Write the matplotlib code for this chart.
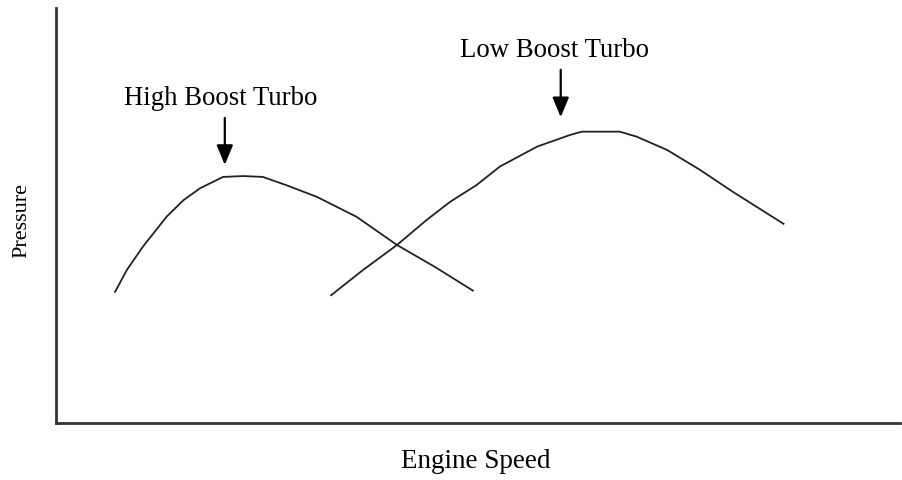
import matplotlib
matplotlib.use("Agg")
import matplotlib.pyplot as plt

# curve points (arbitrary units, 0-100 on both axes)
high_speed = [7.0, 8.4, 10.3, 13.1, 15.1, 17.1, 18.6, 19.8, 22.2, 24.5,
              27.3, 30.9, 35.6, 40.4, 44.9, 49.4]
high_pressure = [31.6, 36.9, 42.5, 49.7, 53.7, 56.6, 58.1, 59.3, 59.5, 59.3,
                 57.3, 54.5, 49.7, 42.9, 37.6, 31.9]

low_speed = [32.6, 36.4, 40.4, 43.9, 46.7, 49.8, 52.6, 57.0, 60.9, 62.3,
             66.8, 68.8, 72.4, 76.3, 80.2, 86.2]
low_pressure = [30.8, 36.9, 42.9, 48.9, 53.3, 57.3, 61.8, 66.6, 69.4, 70.2,
                70.2, 69.0, 65.8, 61.0, 55.7, 48.0]

labels = ["High Boost Turbo", "Low Boost Turbo"]
label_pos = [(19.5, 76.6), (59.1, 88.2)]
arrow_tail = [(20.0, 73.5), (59.8, 85.1)]
arrow_tip = [(20.0, 62.2), (59.8, 73.7)]

plt.rcParams['font.family'] = ['Liberation Serif', 'DejaVu Serif']

fig = plt.figure(figsize=(9.03, 4.8), dpi=100)
ax = fig.add_axes([56 / 903, (480 - 423) / 480, 844 / 903, 415 / 480])

ax.plot(high_speed, high_pressure, color='#222222', lw=1.3)
ax.plot(low_speed, low_pressure, color='#222222', lw=1.3)

for text, (tx, ty), tail, tip in zip(labels, label_pos, arrow_tail, arrow_tip):
    ax.text(tx, ty, text, ha='center', va='baseline', fontsize=19.3, color='black')
    ax.annotate('', xy=tip, xytext=tail,
                arrowprops=dict(arrowstyle='-|>,head_length=1.2,head_width=0.5',
                                color='black', lw=1.6, shrinkA=0, shrinkB=0))

ax.set_xlim(0, 100)
ax.set_ylim(0, 100)
ax.set_xticks([])
ax.set_yticks([])
for side in ['top', 'right']:
    ax.spines[side].set_visible(False)
for side in ['left', 'bottom']:
    ax.spines[side].set_linewidth(2)
    ax.spines[side].set_color('#333333')

fig.text(476 / 903, 1 - 462 / 480, 'Engine Speed', ha='center', va='center',
         fontsize=19.5, color='black')
fig.text(22 / 903, 1 - 221 / 480, 'Pressure', ha='center', va='center',
         rotation=90, fontsize=16, color='black')

fig.savefig('out.png', dpi=100)
